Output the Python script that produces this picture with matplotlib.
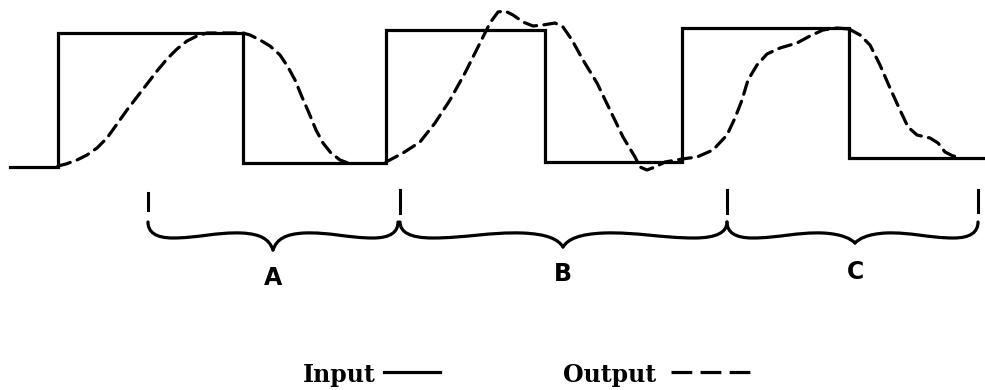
import numpy as np
import matplotlib.pyplot as plt
from matplotlib.path import Path
from matplotlib.patches import PathPatch

# Coordinates are in image pixels (x to the right, y downward)

# Input square wave (solid)
input_x = [10, 58, 58, 243, 243, 386, 386, 545, 545, 682, 682, 849, 849, 984]
input_y = [167, 167, 33, 33, 163, 163, 30, 30, 162, 162, 28, 28, 158, 158]

# Output response (dashed), three pieces
out1_x = [58, 66, 77, 87, 97, 107, 117, 127, 137, 147, 157, 167, 177, 187,
          197, 207, 220, 233, 243, 250, 260, 270, 280, 288, 295, 302, 309,
          316, 323, 331, 340, 348]
out1_y = [166, 164, 160, 155, 148, 138, 124, 110, 97, 84, 71, 59, 49, 41,
          36, 33, 33, 33, 33, 35, 40, 46, 55, 67, 80, 97, 113, 130, 143, 153,
          160, 163]
out2_x = [386, 403, 420, 435, 450, 465, 480, 490, 498, 505, 513, 523, 533,
          543, 555, 563, 572, 583, 597, 610, 623, 635, 640, 647, 655, 665,
          682, 697, 713, 727, 735, 742, 748, 757, 767, 780, 797, 810, 823,
          837, 849]
out2_y = [162, 153, 142, 123, 100, 73, 43, 23, 12, 11, 15, 22, 26, 25, 23,
          27, 40, 60, 83, 110, 137, 157, 167, 170, 167, 162, 159, 157, 150,
          135, 118, 100, 80, 65, 54, 48, 43, 36, 30, 28, 29]
out3_x = [849, 860, 870, 880, 890, 900, 908, 917, 930, 938, 945, 953, 960]
out3_y = [29, 35, 45, 65, 88, 110, 127, 135, 138, 143, 152, 156, 157]

# Braces: end points, tip positions and labels
brace_ends = [(148, 398), (400, 727), (727, 978)]
brace_tips = [(273, 250), (563, 247), (855, 243)]
brace_labels = ['A', 'B', 'C']
label_y = [278, 274, 272]
tick_x = [148, 400, 727, 978]
tick_top = [193, 190, 190, 190]
tick_bot = [210, 213, 213, 212]

fig = plt.figure(figsize=(9.85, 3.9), dpi=100)
ax = fig.add_axes([0, 0, 1, 1])
ax.set_xlim(0, 985)
ax.set_ylim(390, 0)
ax.axis('off')

LW = 2.3
ax.plot(input_x, input_y, color='black', lw=LW, solid_joinstyle='miter')
for xs, ys in [(out1_x, out1_y), (out2_x, out2_y), (out3_x, out3_y)]:
    ax.plot(xs, ys, color='black', lw=LW, ls=(0, (4.0, 2.3)),
            dash_capstyle='round')

# vertical ticks above braces
for tx, t0, t1 in zip(tick_x, tick_top, tick_bot):
    ax.plot([tx, tx], [t0, t1], color='black', lw=2.2)


def half_brace(xe, xt, yt, ytop=222):
    d = 1 if xt > xe else -1
    w = abs(xt - xe)
    verts = [(xe, ytop),
             (xe, ytop + 10), (xe + d * w * 0.06, 238), (xe + d * w * 0.2, 238),
             (xe + d * w * 0.4, 238), (xe + d * w * 0.55, 232), (xe + d * w * 0.75, 233),
             (xt - d * w * 0.1, 234), (xt - d * w * 0.03, 239), (xt, yt)]
    codes = [Path.MOVETO] + [Path.CURVE4] * 9
    return Path(verts, codes)


for (x0, x1), (xt, yt) in zip(brace_ends, brace_tips):
    for xe in (x0, x1):
        ax.add_patch(PathPatch(half_brace(xe, xt, yt), fill=False,
                               lw=2.3, color='black', capstyle='round'))

for lab, (xt, yt), ly in zip(brace_labels, brace_tips, label_y):
    ax.text(xt, ly, lab, ha='center', va='center', fontsize=17,
            fontweight='bold', family='DejaVu Sans')

# legend
ax.text(303, 375, 'Input', ha='left', va='center', fontsize=17,
        fontweight='bold', family='DejaVu Serif')
ax.plot([384, 440], [372, 372], color='black', lw=2.3)
ax.text(563, 375, 'Output', ha='left', va='center', fontsize=17,
        fontweight='bold', family='DejaVu Serif')
ax.plot([671, 750], [372, 372], color='black', lw=2.3, ls=(0, (6.5, 2.6)))

fig.savefig('out.png', dpi=100, facecolor='white')
